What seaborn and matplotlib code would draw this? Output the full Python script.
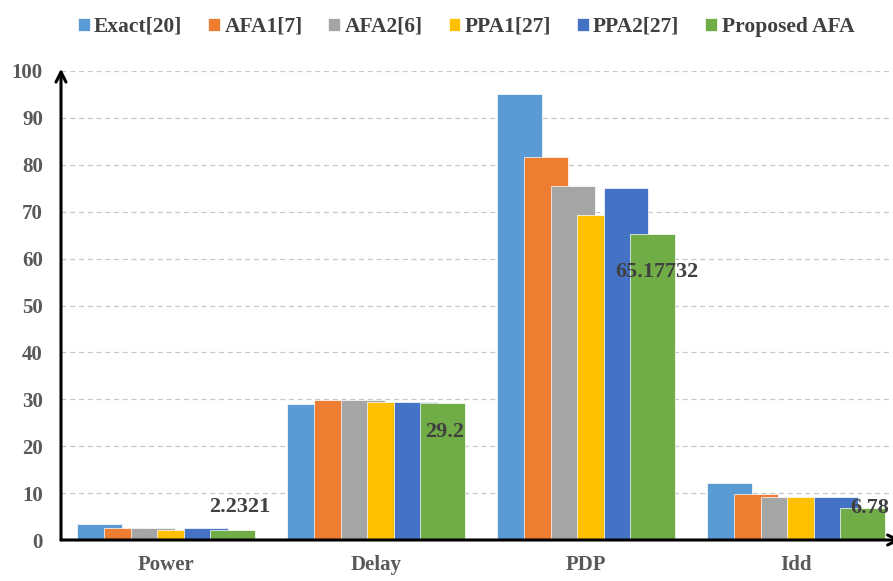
import pandas as pd
import seaborn as sns
import matplotlib.pyplot as plt

# values
metrics = ["Power", "Delay", "PDP", "Idd"]
methods = ["Exact[20]", "AFA1[7]", "AFA2[6]", "PPA1[27]", "PPA2[27]", "Proposed AFA"]
exact = [3.4, 29.1, 95.2, 12.2]
afa1 = [2.6, 29.9, 81.7, 9.9]
afa2 = [2.6, 29.9, 75.5, 9.2]
ppa1 = [2.2, 29.5, 69.4, 9.2]
ppa2 = [2.6, 29.5, 75.1, 9.2]
proposed = [2.2321, 29.2, 65.17732, 6.78]
proposed_labels = ["2.2321", "29.2", "65.17732", "6.78"]
colors = ["#5B9BD5", "#ED7D31", "#A5A5A5", "#FFC000", "#4472C4", "#70AD47"]

series = [exact, afa1, afa2, ppa1, ppa2, proposed]
rows = []
for name, vals in zip(methods, series):
    for m, v in zip(metrics, vals):
        rows.append({"metric": m, "method": name, "value": v})
df = pd.DataFrame(rows)

sns.set_style("white")
plt.rcParams['font.family'] = ['Liberation Serif', 'DejaVu Serif']

fig = plt.figure(figsize=(8.93, 5.81), dpi=100)
ax = fig.add_axes([61 / 893, 41 / 581, 840 / 893, 469 / 581])

sns.barplot(data=df, x="metric", y="value", hue="method", palette=colors,
            width=0.76, saturation=1, edgecolor="white", linewidth=0.5, ax=ax)

# Excel-style overlapping bars: widen each bar around its centre
bar_w = 0.21
for p in ax.patches:
    c = p.get_x() + p.get_width() / 2
    p.set_width(bar_w)
    p.set_x(c - bar_w / 2)

ax.set_xlim(-0.5, 3.5)
ax.set_ylim(0, 100)
ax.set_yticks(range(0, 101, 10))
ax.set_xlabel("")
ax.set_ylabel("")
ax.yaxis.grid(True, linestyle=(0, (4, 3)), color="#C8C8C8", linewidth=0.9)
ax.set_axisbelow(True)
for s in ax.spines.values():
    s.set_visible(False)
ax.tick_params(axis="both", length=0, labelsize=15, labelcolor="#595959")
ax.tick_params(axis="y", pad=13)
ax.tick_params(axis="x", pad=11)
for lbl in ax.get_xticklabels() + ax.get_yticklabels():
    lbl.set_fontweight("bold")

# axis arrows
ax.annotate("", xy=(0, 1.005), xytext=(0, 0), xycoords="axes fraction",
            arrowprops=dict(arrowstyle="->", color="black", lw=2.2,
                            mutation_scale=18, shrinkA=0, shrinkB=0), clip_on=False)
ax.annotate("", xy=(1.0, 0), xytext=(0, 0), xycoords="axes fraction",
            arrowprops=dict(arrowstyle="->", color="black", lw=2.2,
                            mutation_scale=18, shrinkA=0, shrinkB=0), clip_on=False)

# data labels on the proposed bars
step = 0.76 / 6
offsets = [(0.035, 16), (0.01, -21), (0.02, -27), (0.035, 0)]
for i, (v, t) in enumerate(zip(proposed, proposed_labels)):
    x = i + 2.5 * step + offsets[i][0]
    ax.annotate(t, xy=(x, v), xytext=(0, offsets[i][1]), textcoords="offset points",
                ha="center", va="center", fontsize=16, fontweight="bold",
                color="#404040")

# legend across the top
handles, labels = ax.get_legend_handles_labels()
ax.legend(handles, labels, loc="center", bbox_to_anchor=(466 / 893, 1 - 27 / 581),
          bbox_transform=fig.transFigure, ncol=6, frameon=False,
          handlelength=0.55, handleheight=0.55, handletextpad=0.2,
          columnspacing=1.2, prop={"size": 15.5, "weight": "bold"},
          labelcolor="#404040")

plt.savefig("out.png", dpi=100)
